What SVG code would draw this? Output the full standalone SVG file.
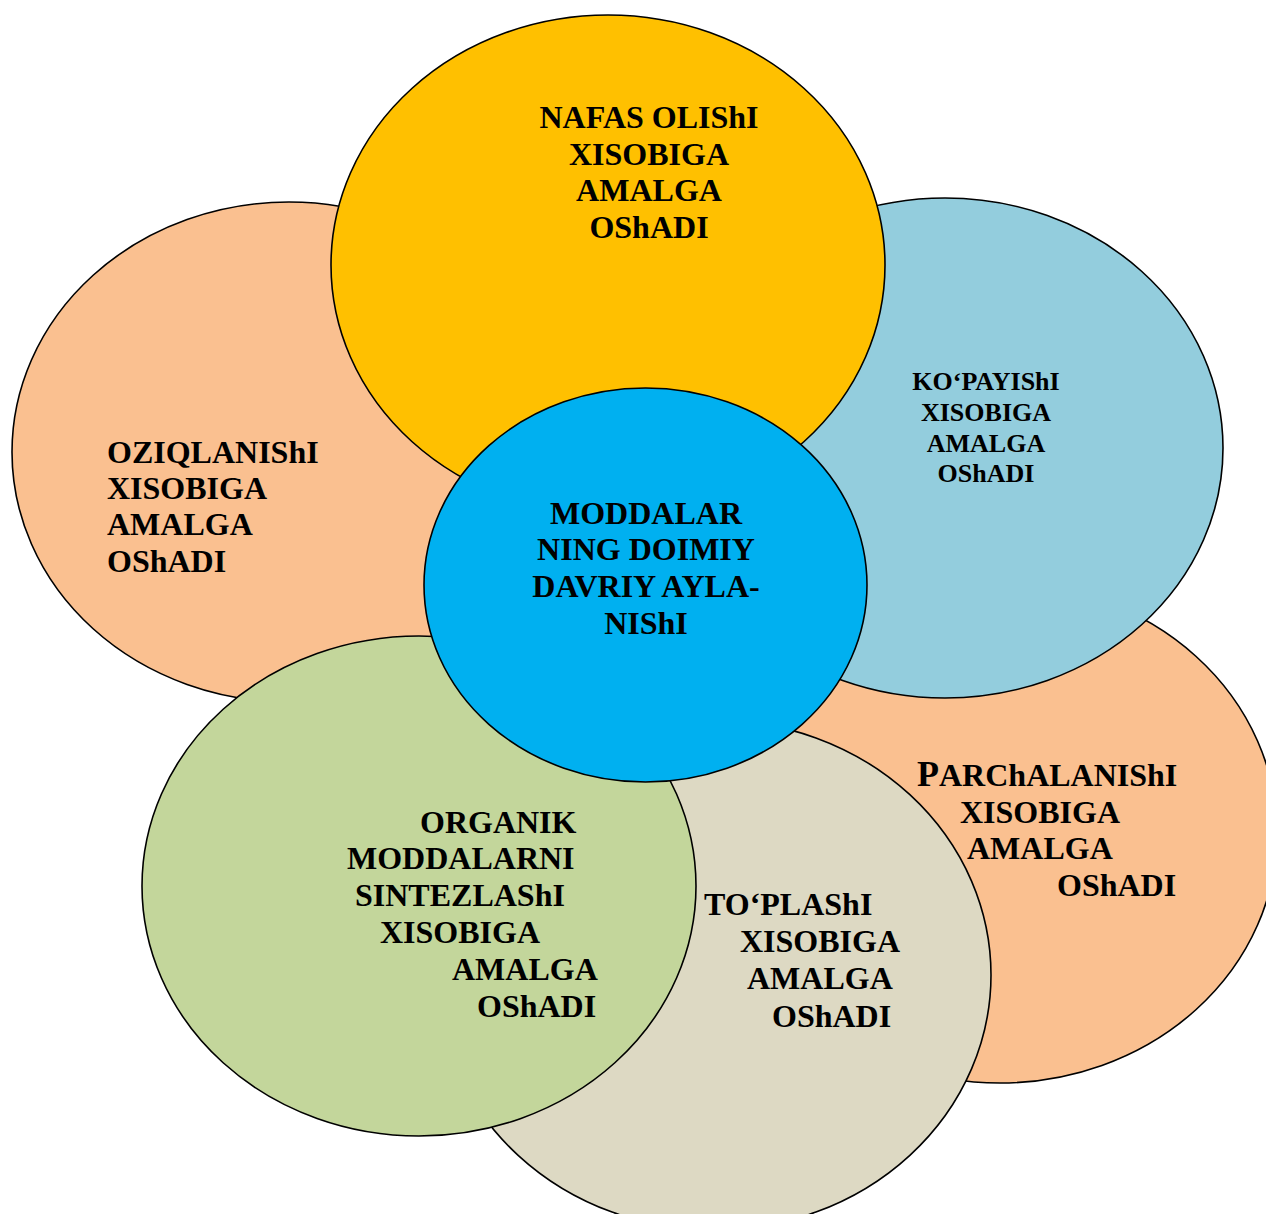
<svg xmlns="http://www.w3.org/2000/svg" width="1266" height="1214" viewBox="0 0 1266 1214">
  <style>
    .blob { stroke: #000; stroke-width: 1.6; }
    .lbl { font-family: "Liberation Serif", "Times New Roman", serif; font-weight: bold; font-size: 32px; fill: #000; }
    .mid { text-anchor: middle; }
    .sm { font-size: 26px; }
  </style>
  <rect width="1266" height="1214" fill="#fff"/>

  <!-- nutrition -->
  <g id="node-oziqlanish">
    <ellipse class="blob" cx="289" cy="452" rx="277" ry="250" fill="#FAC090"/>
    <text class="lbl" x="107" y="463">OZIQLANIShI</text>
    <text class="lbl" x="107" y="499">XISOBIGA</text>
    <text class="lbl" x="107" y="535">AMALGA</text>
    <text class="lbl" x="107" y="572">OShADI</text>
  </g>

  <!-- decomposition -->
  <g id="node-parchalanish">
    <ellipse class="blob" cx="1000" cy="833" rx="277" ry="250" fill="#FAC090"/>
    <text class="lbl" x="917" y="786"><tspan font-size="36">P</tspan><tspan font-size="32">ARChALANIShI</tspan></text>
    <text class="lbl" x="960" y="823">XISOBIGA</text>
    <text class="lbl" x="967" y="859">AMALGA</text>
    <text class="lbl" x="1057" y="896">OShADI</text>
  </g>

  <!-- reproduction -->
  <g id="node-kopayish">
    <ellipse class="blob" cx="945" cy="448" rx="278" ry="250" fill="#93CDDD"/>
    <text class="lbl sm mid" x="986" y="390">KO‘PAYIShI</text>
    <text class="lbl sm mid" x="986" y="421">XISOBIGA</text>
    <text class="lbl sm mid" x="986" y="452">AMALGA</text>
    <text class="lbl sm mid" x="986" y="482">OShADI</text>
  </g>

  <!-- respiration -->
  <g id="node-nafas">
    <ellipse class="blob" cx="608" cy="265" rx="277" ry="250" fill="#FFC000"/>
    <text class="lbl mid" x="649" y="128">NAFAS OLIShI</text>
    <text class="lbl mid" x="649" y="165">XISOBIGA</text>
    <text class="lbl mid" x="649" y="201">AMALGA</text>
    <text class="lbl mid" x="649" y="238">OShADI</text>
  </g>

  <!-- accumulation -->
  <g id="node-toplash">
    <ellipse class="blob" cx="714" cy="975" rx="277" ry="255" fill="#DDD9C3"/>
    <text class="lbl" x="704" y="915">TO‘PLAShI</text>
    <text class="lbl" x="740" y="952">XISOBIGA</text>
    <text class="lbl" x="747" y="989">AMALGA</text>
    <text class="lbl" x="772" y="1027">OShADI</text>
  </g>

  <!-- synthesis of organic matter -->
  <g id="node-organik">
    <ellipse class="blob" cx="419" cy="886" rx="277" ry="250" fill="#C3D69B"/>
    <text class="lbl" x="420" y="833">ORGANIK</text>
    <text class="lbl" x="347" y="869">MODDALARNI</text>
    <text class="lbl" x="355" y="906">SINTEZLAShI</text>
    <text class="lbl" x="380" y="943">XISOBIGA</text>
    <text class="lbl" x="452" y="980">AMALGA</text>
    <text class="lbl" x="477" y="1017">OShADI</text>
  </g>

  <!-- central cycle -->
  <g id="node-markaz">
    <ellipse class="blob" cx="645.5" cy="585" rx="221.5" ry="197" fill="#00B0F0"/>
    <text class="lbl mid" x="646" y="524">MODDALAR</text>
    <text class="lbl mid" x="646" y="560">NING DOIMIY</text>
    <text class="lbl mid" x="646" y="597">DAVRIY AYLA-</text>
    <text class="lbl mid" x="646" y="634">NIShI</text>
  </g>
</svg>
